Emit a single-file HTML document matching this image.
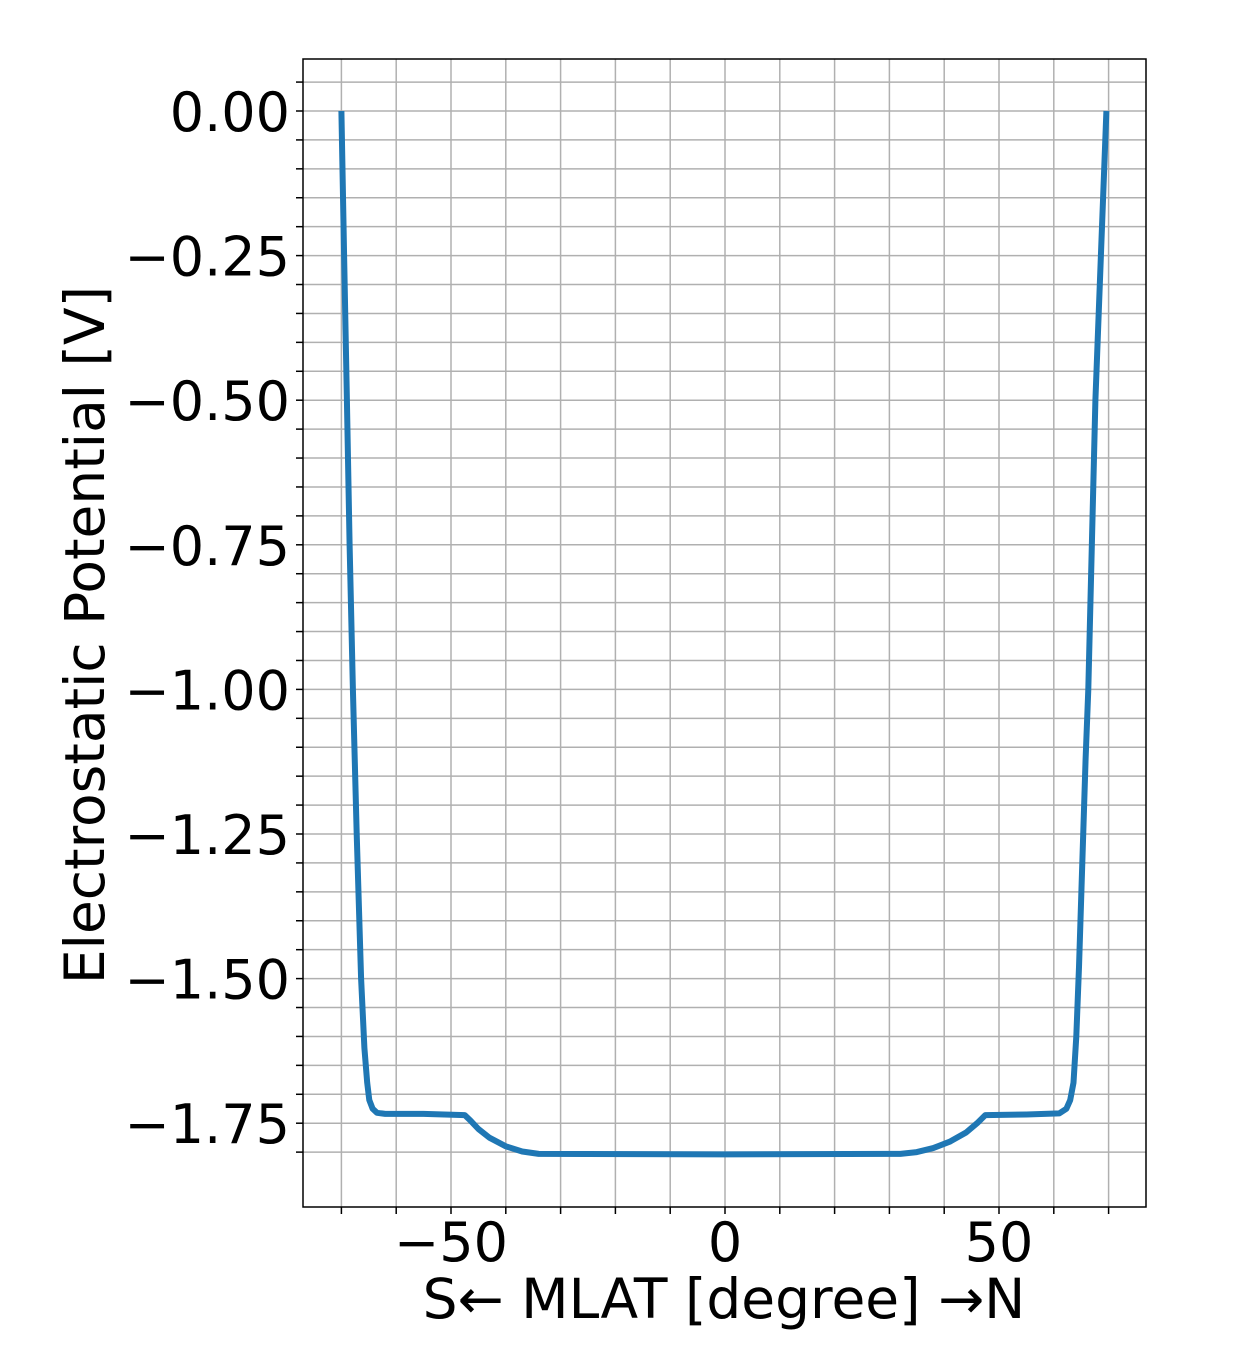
<!DOCTYPE html>
<html><head><meta charset="utf-8"><style>body{margin:0;background:#fff}svg{display:block}text{font-family:"DejaVu Sans","Liberation Sans",sans-serif;fill:#000}</style></head>
<body>
<svg id="chart" width="1247" height="1366">
<g id="grid"></g>
<g id="ticks"></g>
<path id="line" fill="none" stroke="#1f77b4" stroke-width="6" stroke-linejoin="round" stroke-linecap="butt"/>
<rect x="303" y="59" width="843" height="1148" fill="none" stroke="#000" stroke-width="1.5"/>
<text x="724" y="1318" font-size="55" text-anchor="middle">S← MLAT [degree] →N</text>
<text transform="translate(104,635) rotate(-90)" font-size="55" text-anchor="middle">Electrostatic Potential [V]</text>
</svg>
<script>
const xs=[-70,-69.5,-69,-68.5,-67.9,-67.2,-66.4,-65.8,-65.3,-64.9,-64.3,-63.5,-62,-55,-47.5,-46.5,-45,-43,-40,-37,-34,0,32,35,38,41,44,46,47.5,55,61,62.3,63,63.6,64.1,64.6,65.2,65.8,66.3,67.6,68.6,69.6];
const ys=[0,-0.25,-0.5,-0.75,-1.0,-1.25,-1.5,-1.62,-1.68,-1.71,-1.725,-1.732,-1.734,-1.734,-1.736,-1.745,-1.76,-1.775,-1.79,-1.799,-1.803,-1.804,-1.803,-1.8,-1.793,-1.782,-1.766,-1.75,-1.736,-1.735,-1.733,-1.725,-1.71,-1.68,-1.6,-1.48,-1.3,-1.12,-1.0,-0.5,-0.25,0];
const xTickLabels=["−50","0","50"];const xTickVals=[-50,0,50];
const yTickLabels=["0.00","−0.25","−0.50","−0.75","−1.00","−1.25","−1.50","−1.75"];const yTickVals=[0,-0.25,-0.5,-0.75,-1,-1.25,-1.5,-1.75];
const X=v=>725+v*5.48, Y=v=>111-v*578.4;
const NS='http://www.w3.org/2000/svg';
const grid=document.getElementById('grid'),ticks=document.getElementById('ticks');
function ln(p,x1,y1,x2,y2,c,w){const l=document.createElementNS(NS,'line');l.setAttribute('x1',x1);l.setAttribute('y1',y1);l.setAttribute('x2',x2);l.setAttribute('y2',y2);l.setAttribute('stroke',c);l.setAttribute('stroke-width',w);


p.appendChild(l);}
for(let v=-70;v<=70;v+=10){const x=X(v);ln(grid,x,59,x,1207,'#b0b0b0',1.5);ln(ticks,x,1207,x,1214,'#000',1.5);}
for(let i=1;i<=38;i++){const v=0.1-i*0.05;const y=Y(v);if(y<59||y>1207)continue;ln(grid,303,y,1146,y,'#b0b0b0',1.5);ln(ticks,296,y,303,y,'#000',1.5);}
function tx(x,y,s,a,name){const t=document.createElementNS(NS,'text');t.setAttribute('x',x);t.setAttribute('y',y);t.setAttribute('font-size','54');t.setAttribute('text-anchor',a);t.textContent=s;


ticks.appendChild(t);}
xTickVals.forEach((v,i)=>tx(X(v),1261,xTickLabels[i],'middle','x-tick-label'));
yTickVals.forEach((v,i)=>tx(290,Y(v)+20,yTickLabels[i],'end','y-tick-label'));
document.getElementById('line').setAttribute('d',xs.map((v,i)=>(i?'L':'M')+X(v).toFixed(1)+','+Y(ys[i]).toFixed(1)).join(''));
</script>
</body></html>
